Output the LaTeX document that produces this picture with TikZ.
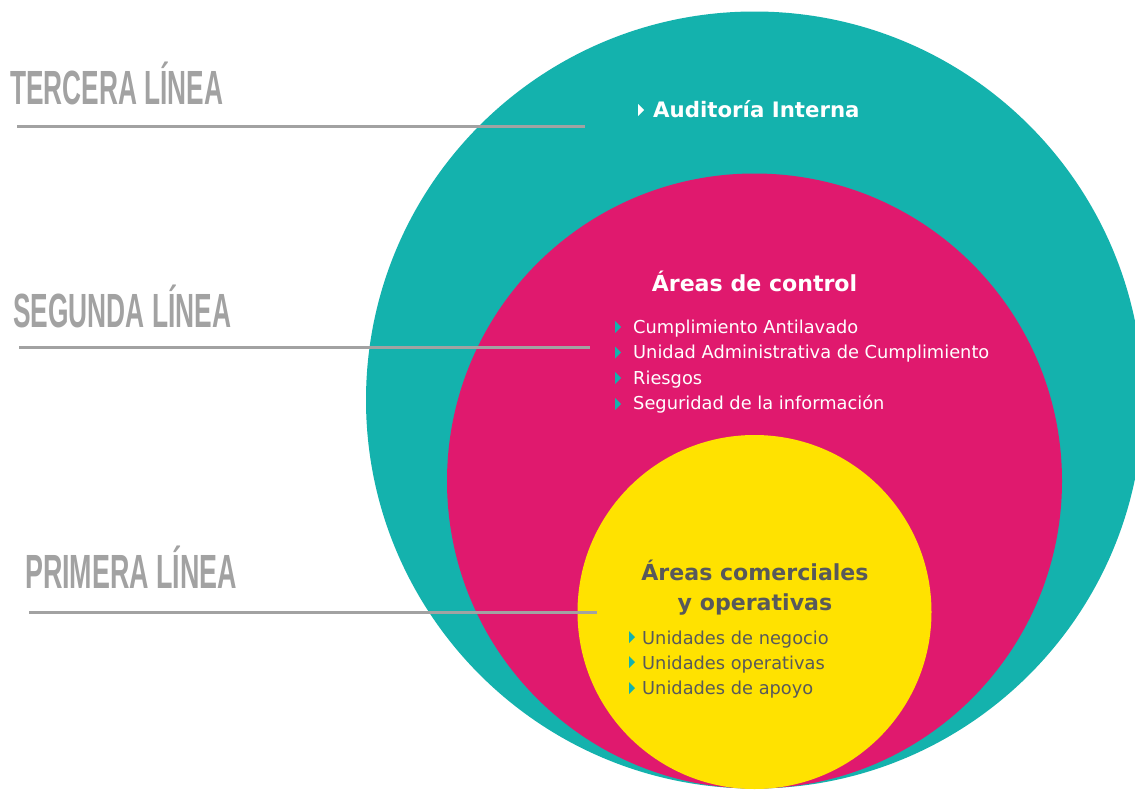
\documentclass[tikz,border=0pt]{standalone}
\usepackage{fontspec}
\setmainfont{DejaVu Sans}
\newfontfamily\labfont{Liberation Sans}
\definecolor{tealc}{HTML}{14B2AD}
\definecolor{magc}{HTML}{E0196E}
\definecolor{yelc}{HTML}{FFE200}
\definecolor{lgray}{HTML}{A2A2A2}
\definecolor{dgray}{HTML}{58595B}
\tikzset{
  lab/.style={inner sep=0pt, anchor=base west, text=lgray, font=\labfont\bfseries},
  rule/.style={draw=lgray, line width=3pt},
  head/.style={inner sep=0pt, anchor=base, font=\bfseries\fontsize{22.1}{28}\selectfont},
  item/.style={inner sep=0pt, anchor=base west, font=\fontsize{17.8}{22}\selectfont},
  btri/.pic={\fill (0,0) -- (6,6) -- (0,12) -- cycle;}
}
\begin{document}
\begin{tikzpicture}[x=1pt,y=-1pt]
\useasboundingbox (0,0) rectangle (1135,790);
\fill[white] (0,0) rectangle (1135,790);
% circles
\fill[tealc] (754.5,400) circle (388.5);
\fill[magc] (754.5,481) circle (307.5);
\fill[yelc] (754.5,612) circle (177);
% left labels
\node[lab] (l3) at (10,104) {\resizebox{213pt}{\height}{\fontsize{48}{50}\selectfont TERCERA LÍNEA}};
\node[lab] (l2) at (13,327) {\resizebox{218pt}{\height}{\fontsize{48}{50}\selectfont SEGUNDA LÍNEA}};
\node[lab] (l1) at (25,588) {\resizebox{212pt}{\height}{\fontsize{48}{50}\selectfont PRIMERA LÍNEA}};
\coordinate (r3a) at (17,126); \coordinate (r3b) at (585,126);
\coordinate (r2a) at (19,347); \coordinate (r2b) at (590,347);
\coordinate (r1a) at (29,612); \coordinate (r1b) at (597,612);
\draw[rule] (r3a) -- (r3b);
\draw[rule] (r2a) -- (r2b);
\draw[rule] (r1a) -- (r1b);
% third line
\pic[white] at (638,104) {btri};
\node[inner sep=0pt, anchor=base west, text=white, font=\bfseries\fontsize{21.3}{26}\selectfont] (aud) at (653,117.5) {Auditoría Interna};
% second line
\node[head, text=white] (ctl) at (754.5,291.5) {Áreas de control};
\pic[tealc] at (615,321) {btri};
\pic[tealc] at (615,346.5) {btri};
\pic[tealc] at (615,372) {btri};
\pic[tealc] at (615,398) {btri};
\node[item, text=white] (m1) at (633,333.3) {Cumplimiento Antilavado};
\node[item, text=white] (m2) at (633,358.8) {Unidad Administrativa de Cumplimiento};
\node[item, text=white] (m3) at (633,384.3) {Riesgos};
\node[item, text=white] (m4) at (633,409.8) {Seguridad de la información};
% first line
\node[head, text=dgray] (com1) at (755,580.7) {Áreas comerciales};
\node[head, text=dgray] (com2) at (755,610.5) {y operativas};
\pic[tealc] at (629,631) {btri};
\pic[tealc] at (629,656) {btri};
\pic[tealc] at (629,682) {btri};
\node[item, text=dgray] (y1) at (642,644.3) {Unidades de negocio};
\node[item, text=dgray] (y2) at (642,669.3) {Unidades operativas};
\node[item, text=dgray] (y3) at (642,694.3) {Unidades de apoyo};
\end{tikzpicture}
\end{document}
